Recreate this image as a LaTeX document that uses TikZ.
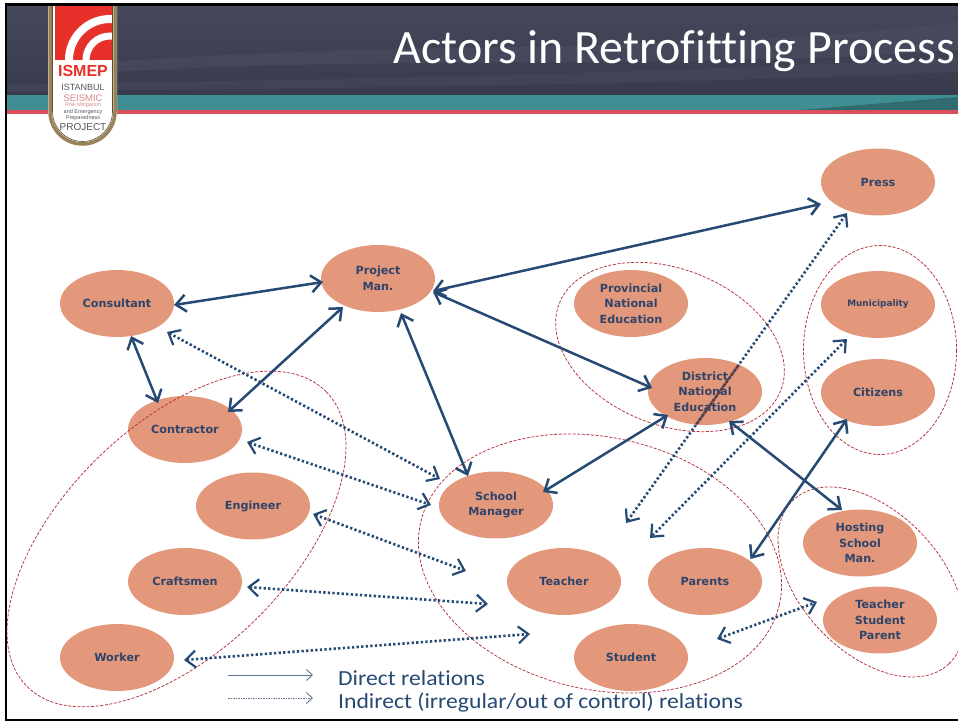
\documentclass[tikz,border=0pt]{standalone}
\usepackage{fontspec}
\setmainfont{Carlito}[Ligatures=NoCommon]
\newfontfamily\verd{DejaVu Sans}
\newfontfamily\helv{Liberation Sans}
\newfontfamily\legf{Carlito}[Ligatures=NoCommon,FakeStretch=1.1]
\usetikzlibrary{arrows.meta,shapes.geometric}
\definecolor{nodefill}{HTML}{E3987C}
\definecolor{navy}{HTML}{264A73}
\definecolor{nodetext}{HTML}{2F4468}
\definecolor{grp}{HTML}{B5303A}
\definecolor{legendc}{HTML}{5F7590}
\definecolor{headA}{HTML}{45485A}
\definecolor{headB}{HTML}{383B4C}
\definecolor{headC}{HTML}{4F5266}
\definecolor{teal}{HTML}{3F8E94}
\definecolor{redline}{HTML}{D9505A}
\definecolor{logored}{HTML}{E8302A}
\definecolor{gold}{HTML}{9A8258}
\definecolor{logogray}{HTML}{55565C}
\definecolor{logopink}{HTML}{D98C8C}
\definecolor{overlap}{HTML}{7A3B30}
\tikzset{
 x=1pt,y=-1pt,
 actor/.style={ellipse,fill=nodefill,minimum width=114pt,minimum height=67pt,inner sep=0pt,align=center,text=nodetext,font=\verd\bfseries\fontsize{11.2}{15.5}\selectfont},
 direct/.style={draw=navy,line width=2.5pt,{Straight Barb[length=10pt,width=17pt,line width=2.5pt]}-{Straight Barb[length=10pt,width=17pt,line width=2.5pt]}},
 indirect/.style={draw=navy,line width=2.6pt,dash pattern=on 2.3pt off 2.3pt,{Straight Barb[length=10pt,width=17pt,line width=2.2pt]}-{Straight Barb[length=10pt,width=17pt,line width=2.2pt]}},
 group/.style={draw=grp,line width=.75pt,dash pattern=on 3pt off 1.6pt},
 lgsolid/.style={draw=legendc,line width=.9pt,-{Straight Barb[length=6pt,width=11pt,line width=.9pt]}},
 lgdot/.style={draw=legendc,line width=.9pt,dash pattern=on 1.5pt off 1pt,-{Straight Barb[length=6pt,width=11pt,line width=.9pt]}},
 legendtext/.style={anchor=west,text=navy,inner sep=0pt,font=\legf\fontsize{21.5}{23}\selectfont},
 logot/.style={inner sep=0pt,font=\helv\fontsize{#1}{#1}\selectfont},
}
\begin{document}
\begin{tikzpicture}
\useasboundingbox (0,0) rectangle (958,722);
\fill[white] (0,0) rectangle (958,722);
% header
\fill[top color=headA,bottom color=headB] (7,6) rectangle (958,95);
\fill[headC,opacity=.45] (110,62) .. controls (400,40) and (700,55) .. (958,22) -- (958,50) .. controls (700,70) and (400,55) .. (110,72) -- cycle;
\fill[headC,opacity=.35] (7,85) .. controls (200,80) and (500,80) .. (958,58) -- (958,72) .. controls (500,90) and (200,88) .. (7,92) -- cycle;
\fill[teal] (7,95) rectangle (958,110);
\fill[teal!75!black] (800,110) -- (958,97) -- (958,110) -- cycle;
\fill[redline] (7,110) rectangle (958,114);
\node[anchor=base east,inner sep=0pt,text=white,font=\fontsize{47.9}{50}\selectfont] (title) at (955,63.5) {Actors in Retrofitting Process};
% logo
\fill[white] (48,6) -- (117,6) -- (117,111.5) arc[start angle=0,end angle=-180,radius=34.5pt] -- cycle;
\begin{scope}
\clip (55,6) rectangle (112,60);
\fill[logored] (55,6) rectangle (112,60);
\draw[white,line width=8pt] (110,60) circle[radius=41pt];
\draw[white,line width=7pt] (110,60) circle[radius=24pt];
\end{scope}
\draw[gold,line width=3.5pt] (50,6) -- (50,111.5) arc[start angle=180,end angle=360,radius=32.5pt] -- (115,6);
\draw[gold!60!black,line width=.6pt] (52.5,6) -- (52.5,111.5) arc[start angle=180,end angle=360,radius=30pt] -- (112.5,6);
\node[logot=15.5,text=logored,font=\helv\bfseries\fontsize{16}{16}\selectfont] (lg1) at (83,71) {ISMEP};
\node[logot=9,text=logogray] (lg2) at (83,87) {ISTANBUL};
\node[logot=9.5,text=logopink] (lg3) at (83,98) {SEISMIC};
\node[logot=5.5,text=logopink] (lg4) at (83,105) {Risk Mitigation};
\node[logot=5.5,text=logogray] (lg5) at (83,112) {and Emergency};
\node[logot=5.5,text=logogray] (lg6) at (83,118) {Preparedness};
\node[logot=10,text=logogray] (lg7) at (83,127) {PROJECT};
% frame
\fill[black] (5,3) rectangle (958,6);
\fill[black] (5,3) rectangle (7,721);
\fill[black] (5,719) rectangle (958,721);
% actors
\node[actor] (press) at (878,182) {Press};
\node[actor] (pm) at (378,278.5) {Project\\Man.};
\node[actor] (cons) at (117,303.5) {Consultant};
\node[actor] (prov) at (631,303.5) {Provincial\\National\\Education};
\node[actor,font=\verd\bfseries\fontsize{8.9}{12}\selectfont] (muni) at (878,304.5) {Municipality};
\node[actor] (dist) at (705,391.5) {District\\National\\Education};
\node[actor] (citi) at (878,392.5) {Citizens};
\node[actor] (contr) at (185,429.5) {Contractor};
\node[actor] (eng) at (253,506) {Engineer};
\node[actor] (sm) at (496,505) {School\\Manager};
\node[actor] (host) at (860,543) {Hosting\\School\\Man.};
\node[actor] (craft) at (185,581.5) {Craftsmen};
\node[actor] (teach) at (564,581.5) {Teacher};
\node[actor] (par) at (705,581.5) {Parents};
\node[actor] (tsp) at (880,620) {Teacher\\Student\\Parent};
\node[actor] (work) at (117,657.5) {Worker};
\node[actor] (stud) at (631,657.5) {Student};
% groups
\draw[group,rotate around={44.5:(176.5,539)}] (176.5,539) ellipse[x radius=210,y radius=113];
\draw[group,rotate around={-12.9:(600,563.5)}] (600,563.5) ellipse[x radius=184,y radius=126];
\draw[group,rotate around={-21.5:(670,347)}] (670,347) ellipse[x radius=119,y radius=78];
\draw[group] (880,350) ellipse[x radius=76.5,y radius=104.5];
\draw[group,rotate around={-46.4:(871,582)}] (871,582) ellipse[x radius=113,y radius=70];
% free ends
\coordinate (c0) at (440,479);
\coordinate (c1) at (431,505);
\coordinate (c2) at (466,571);
\coordinate (c3) at (488,604);
\coordinate (c4) at (530,634);
\coordinate (c5) at (626,523);
\coordinate (c6) at (650,538);
\coordinate (c7) at (717,639);
\coordinate (c8) at (817,602);
% direct
\draw[direct] ([shift={(57,1.5)}]cons.center) -- ([shift={(-55,3.5)}]pm.center);
\draw[direct] ([shift={(14,32.5)}]cons.center) -- ([shift={(-27,-26.5)}]contr.center);
\draw[direct] ([shift={(43,-17.5)}]contr.center) -- ([shift={(-35,28.5)}]pm.center);
\draw[direct] ([shift={(55,12.5)}]pm.center) -- ([shift={(-57,22)}]press.center);
\draw[direct] ([shift={(55,13.5)}]pm.center) -- ([shift={(-53,-3.5)}]dist.center);
\draw[direct] ([shift={(23,34.5)}]pm.center) -- ([shift={(-28,-29)}]sm.center);
\draw[direct] ([shift={(47,-13)}]sm.center) -- ([shift={(-37,23.5)}]dist.center);
\draw[direct] ([shift={(24,29.5)}]dist.center) -- ([shift={(-18,-33)}]host.center);
\draw[direct] ([shift={(45.5,-22.5)}]par.center) -- ([shift={(-31,26.5)}]citi.center);
% indirect
\draw[indirect] ([shift={(50,28.5)}]cons.center) -- (c0);
\draw[indirect] ([shift={(62,12.5)}]contr.center) -- (c1);
\draw[indirect] ([shift={(60,8)}]eng.center) -- (c2);
\draw[indirect] ([shift={(62,5.5)}]craft.center) -- (c3);
\draw[indirect] ([shift={(67,2.5)}]work.center) -- (c4);
\draw[indirect] ([shift={(-31,31)}]press.center) -- (c5);
\draw[indirect] ([shift={(-31,34.5)}]muni.center) -- (c6);
\draw[indirect] (c7) -- (c8);
% the dotted line darkens where it crosses the District ellipse
\begin{scope}
\clip (dist.center) ellipse[x radius=57,y radius=33.5];
\draw[draw=overlap,line width=2.6pt,dash pattern=on 2.3pt off 2.3pt] ([shift={(-31,31)}]press.center) -- (c5);
\end{scope}
% legend
\coordinate (la) at (228,675);
\coordinate (lb) at (313,675);
\coordinate (lc) at (228,698);
\coordinate (ld) at (313,698);
\draw[lgsolid] (la) -- (lb);
\draw[lgdot] (lc) -- (ld);
\node[legendtext] (l1) at (338,678) {Direct relations};
\node[legendtext] (l2) at (338,702) {Indirect (irregular/out of control) relations};
\end{tikzpicture}
\end{document}
